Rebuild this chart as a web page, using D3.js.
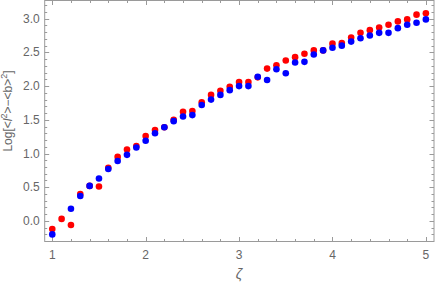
<!DOCTYPE html>
<html>
<head>
<meta charset="utf-8">
<script src="https://cdn.jsdelivr.net/npm/d3@7"></script>
<style>
  body { margin: 0; background: #fff; }
  text { font-family: "Liberation Sans", Arial, sans-serif; }
</style>
</head>
<body>
<div id="chart"></div>
<script>
// zeta values 1.0 .. 5.0 step 0.1
const zeta = [1.0,1.1,1.2,1.3,1.4,1.5,1.6,1.7,1.8,1.9,
              2.0,2.1,2.2,2.3,2.4,2.5,2.6,2.7,2.8,2.9,
              3.0,3.1,3.2,3.3,3.4,3.5,3.6,3.7,3.8,3.9,
              4.0,4.1,4.2,4.3,4.4,4.5,4.6,4.7,4.8,4.9,5.0];

const red_vals = [-0.12,0.03,-0.06,0.40,0.52,0.51,0.79,0.95,1.06,1.11,
                  1.26,1.35,1.39,1.50,1.62,1.63,1.76,1.87,1.93,1.99,
                  2.06,2.06,2.13,2.26,2.31,2.38,2.43,2.48,2.53,2.53,
                  2.63,2.64,2.72,2.79,2.83,2.87,2.91,2.96,2.99,3.06,3.08];

const blue_vals = [-0.20,null,0.18,0.37,0.52,0.63,0.77,0.89,0.98,1.09,
                   1.19,1.30,1.39,1.48,1.55,1.57,1.72,1.80,1.87,1.94,
                   2.00,2.00,2.14,2.09,2.25,2.19,2.35,2.36,2.47,2.53,
                   2.57,2.60,2.66,2.71,2.75,2.79,2.79,2.86,2.91,2.94,2.99];

const x_ticks = [1, 2, 3, 4, 5];
const y_ticks = [0, 0.5, 1.0, 1.5, 2.0, 2.5, 3.0];

const width = 436, height = 283;
const frame = { left: 44.7, right: 434, top: 0.5, bottom: 241.5 };

const svg = d3.select('#chart').append('svg')
    .attr('width', width)
    .attr('height', height);

const x = d3.scaleLinear().domain([0.919, 5.087]).range([frame.left, frame.right]);
const y = d3.scaleLinear().domain([-0.305, 3.27]).range([frame.bottom, frame.top]);

const frame_color = '#9a9a9a';
const label_color = '#666';

// minor ticks
const x_minor = d3.range(1, 5.01, 0.2).filter(v => !x_ticks.some(t => Math.abs(t - v) < 1e-6));
const y_minor = d3.range(-0.2, 3.25, 0.1).filter(v => !y_ticks.some(t => Math.abs(t - v) < 1e-6));

let ticks_g = svg.append('g').attr('stroke', frame_color).attr('stroke-width', 1);

function add_xticks(vals, len) {
    vals.forEach(v => {
        let px = Math.round(x(v)) + 0.5;
        ticks_g.append('line').attr('x1', px).attr('x2', px)
            .attr('y1', frame.bottom).attr('y2', frame.bottom - len);
        ticks_g.append('line').attr('x1', px).attr('x2', px)
            .attr('y1', frame.top).attr('y2', frame.top + len);
    });
}
function add_yticks(vals, len) {
    vals.forEach(v => {
        let py = Math.round(y(v)) + 0.5;
        ticks_g.append('line').attr('y1', py).attr('y2', py)
            .attr('x1', frame.left).attr('x2', frame.left + len);
        ticks_g.append('line').attr('y1', py).attr('y2', py)
            .attr('x1', frame.right).attr('x2', frame.right - len);
    });
}
add_xticks(x_ticks, 4.5);
add_xticks(x_minor, 2.5);
add_yticks(y_ticks, 4.5);
add_yticks(y_minor, 2.5);

// frame
svg.append('rect')
    .attr('x', frame.left).attr('y', frame.top)
    .attr('width', frame.right - frame.left)
    .attr('height', frame.bottom - frame.top)
    .attr('fill', 'none')
    .attr('stroke', frame_color);

// tick labels
svg.append('g').selectAll('text').data(x_ticks).join('text')
    .attr('x', d => x(d))
    .attr('y', frame.bottom + 17)
    .attr('text-anchor', 'middle')
    .attr('font-size', 12)
    .attr('fill', label_color)
    .text(d => d3.format('d')(d));

svg.append('g').selectAll('text').data(y_ticks).join('text')
    .attr('x', frame.left - 5)
    .attr('y', d => y(d) + 4)
    .attr('text-anchor', 'end')
    .attr('font-size', 12)
    .attr('fill', label_color)
    .text(d => d3.format('.1f')(d));

// axis labels
svg.append('text')
    .attr('x', x(3))
    .attr('y', 279)
    .attr('text-anchor', 'middle')
    .attr('font-size', 14)
    .attr('font-style', 'italic')
    .attr('fill', label_color)
    .attr('font-family', '"DejaVu Serif", serif')
    .text('ζ');

let ylab = svg.append('text')
    .attr('transform', 'translate(12,111) rotate(-90)')
    .attr('text-anchor', 'middle')
    .attr('font-size', 12)
    .attr('fill', label_color);
ylab.append('tspan').text('Log[<');
ylab.append('tspan').attr('font-style', 'italic').text('l');
ylab.append('tspan').attr('font-size', 9).attr('dy', -5).text('2');
ylab.append('tspan').attr('dy', 5).text('>−<b>');
ylab.append('tspan').attr('font-size', 9).attr('dy', -5).text('2');
ylab.append('tspan').attr('dy', 5).text(']');

// points: red first, blue on top
const red_pts = zeta.map((z, i) => ({ z: z, v: red_vals[i] })).filter(d => d.v !== null);
const blue_pts = zeta.map((z, i) => ({ z: z, v: blue_vals[i] })).filter(d => d.v !== null);

svg.append('g').selectAll('circle').data(red_pts).join('circle')
    .attr('cx', d => x(d.z))
    .attr('cy', d => y(d.v))
    .attr('r', 3.3)
    .attr('fill', '#ff0000');

svg.append('g').selectAll('circle').data(blue_pts).join('circle')
    .attr('cx', d => x(d.z))
    .attr('cy', d => y(d.v))
    .attr('r', 3.3)
    .attr('fill', '#0000ff');
</script>
</body>
</html>
